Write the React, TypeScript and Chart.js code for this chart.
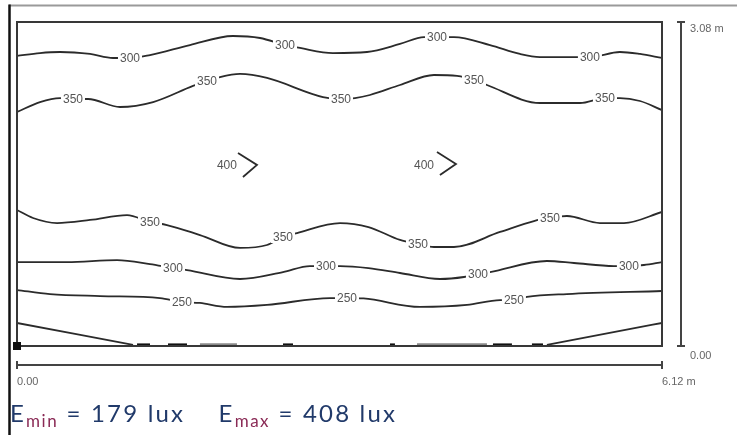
import React, { useEffect, useRef } from "react";
import { Chart, registerables } from "chart.js";

Chart.register(...registerables);

type P = [number, number];

// Room size (m)
const roomWidth = 6.12;
const roomDepth = 3.08;
const xTickLabels = ["0.00", "6.12 m"];
const yTickLabels = ["0.00", "3.08 m"];

// Isolines (x, y in metres)
const iso300Top: P[] = [
  [0, 2.757], [0.218, 2.785], [0.408, 2.795], [0.693, 2.776], [0.911, 2.738], [1.072, 2.738],
  [1.262, 2.766], [1.641, 2.861], [2.049, 2.947], [2.306, 2.928], [2.543, 2.861], [2.685, 2.833],
  [2.998, 2.785], [3.321, 2.795], [3.634, 2.871], [3.862, 2.937], [3.985, 2.937], [4.146, 2.937],
  [4.488, 2.861], [4.772, 2.776], [4.962, 2.747], [5.436, 2.747], [5.721, 2.795], [5.911, 2.776],
  [6.12, 2.738],
];
const iso350Top: P[] = [
  [0, 2.224], [0.218, 2.319], [0.408, 2.357], [0.531, 2.348], [0.674, 2.348], [0.977, 2.272],
  [1.292, 2.319], [1.670, 2.472], [1.803, 2.519], [1.926, 2.557], [2.116, 2.586], [2.372, 2.548],
  [2.903, 2.367], [3.074, 2.348], [3.207, 2.357], [3.349, 2.386], [3.634, 2.481], [3.956, 2.576],
  [4.175, 2.567], [4.336, 2.529], [4.459, 2.481], [4.962, 2.310], [5.342, 2.310], [5.579, 2.357],
  [5.721, 2.357], [5.911, 2.329], [6.12, 2.243],
];
const iso400Left: P[] = [[2.097, 1.835], [2.277, 1.721], [2.144, 1.607]];
const iso400Right: P[] = [[3.985, 1.844], [4.165, 1.730], [4.013, 1.625]];
const iso350Bottom: P[] = [
  [0, 1.293], [0.152, 1.217], [0.380, 1.169], [0.693, 1.198], [1.044, 1.245], [1.262, 1.179],
  [1.423, 1.150], [1.736, 1.055], [2.116, 0.932], [2.372, 0.960], [2.524, 1.036], [2.657, 1.074],
  [3.065, 1.169], [3.335, 1.131], [3.634, 1.008], [3.805, 0.970], [3.956, 0.941], [4.146, 0.941],
  [4.583, 1.084], [4.905, 1.188], [5.057, 1.217], [5.218, 1.236], [5.531, 1.169], [5.759, 1.169],
  [6.12, 1.274],
];
const iso300Bottom: P[] = [
  [0, 0.798], [0.474, 0.798], [0.949, 0.817], [1.262, 0.779], [1.480, 0.741], [1.613, 0.722],
  [2.116, 0.637], [2.524, 0.703], [2.780, 0.760], [2.932, 0.760], [3.065, 0.760], [3.335, 0.741],
  [3.634, 0.694], [4.013, 0.637], [4.241, 0.656], [4.374, 0.684], [4.488, 0.703], [5.028, 0.808],
  [5.285, 0.789], [5.664, 0.760], [5.806, 0.760], [5.949, 0.770], [6.12, 0.798],
];
const iso250: P[] = [
  [0, 0.532], [0.313, 0.494], [0.788, 0.475], [1.357, 0.456], [1.565, 0.418], [1.736, 0.409],
  [1.992, 0.371], [2.372, 0.390], [2.970, 0.456], [3.131, 0.456], [3.288, 0.452], [3.824, 0.371],
  [4.270, 0.390], [4.583, 0.437], [4.715, 0.437], [4.839, 0.466], [5.218, 0.494], [6.12, 0.523],
];
const iso200Left: P[] = [[0, 0.219], [1.101, 0.01]];
const iso200Right: P[] = [[5.028, 0.01], [6.12, 0.219]];
const iso200EdgeDark: P[][] = [
  [[1.139, 0.008], [1.262, 0.008]],
  [[1.433, 0.008], [1.613, 0.008]],
  [[2.524, 0.008], [2.619, 0.008]],
  [[3.539, 0.008], [3.586, 0.008]],
  [[4.516, 0.008], [4.696, 0.008]],
  [[4.886, 0.008], [4.991, 0.008]],
];
const iso200EdgeLight: P[][] = [
  [[1.736, 0.01], [2.087, 0.01]],
  [[3.795, 0.01], [4.459, 0.01]],
];

// Isoline labels (level, position in metres)
const isoLabelText = ["300", "300", "300", "300", "350", "350", "350", "350", "350", "400", "400",
  "350", "350", "350", "350", "300", "300", "300", "300", "250", "250", "250"];
const isoLabelPos: P[] = [
  [1.072, 2.738], [2.543, 2.861], [3.985, 2.937], [5.436, 2.747],
  [0.531, 2.348], [1.803, 2.519], [3.074, 2.348], [4.336, 2.529], [5.579, 2.357],
  [1.992, 1.721], [3.862, 1.721],
  [1.262, 1.179], [2.524, 1.036], [3.805, 0.970], [5.057, 1.217],
  [1.480, 0.741], [2.932, 0.760], [4.374, 0.684], [5.806, 0.760],
  [1.565, 0.418], [3.131, 0.456], [4.715, 0.437],
];

const eMin = 179;
const eMax = 408;

const toPts = (arr: P[]) => arr.map(([x, y]) => ({ x, y }));

const decorPlugin = {
  id: "decor",
  beforeDatasetsDraw(chart: any) {
    const { ctx } = chart;
    ctx.save();
    // page border
    ctx.strokeStyle = "#9a9a9a";
    ctx.lineWidth = 2;
    ctx.beginPath();
    ctx.moveTo(9, 5.5);
    ctx.lineTo(737, 5.5);
    ctx.stroke();
    ctx.strokeStyle = "#111";
    ctx.lineWidth = 2.5;
    ctx.beginPath();
    ctx.moveTo(9.5, 4.5);
    ctx.lineTo(9.5, 435);
    ctx.stroke();
    ctx.restore();
  },
  afterDatasetsDraw(chart: any) {
    const { ctx, scales } = chart;
    const xs = scales.x;
    const ys = scales.y;
    const x0 = xs.getPixelForValue(0);
    const x1 = xs.getPixelForValue(roomWidth);
    const y0 = ys.getPixelForValue(0);
    const y1 = ys.getPixelForValue(roomDepth);
    ctx.save();
    // isoline labels
    ctx.font = "12px 'Liberation Sans', Arial, sans-serif";
    ctx.textAlign = "center";
    ctx.textBaseline = "middle";
    isoLabelPos.forEach(([vx, vy], i) => {
      const px = xs.getPixelForValue(vx);
      const py = ys.getPixelForValue(vy);
      const t = isoLabelText[i];
      const w = ctx.measureText(t).width;
      ctx.fillStyle = "#fff";
      ctx.fillRect(px - w / 2 - 2, py - 6, w + 4, 12);
      ctx.fillStyle = "#555";
      ctx.fillText(t, px, py + 0.5);
    });
    // room frame
    ctx.strokeStyle = "#383838";
    ctx.lineWidth = 2;
    ctx.strokeRect(x0, y1, x1 - x0, y0 - y1);
    ctx.fillStyle = "#111";
    ctx.fillRect(x0 - 4, y0 - 4, 8, 8);
    // right dimension line
    const dx = x1 + 19;
    ctx.strokeStyle = "#444";
    ctx.lineWidth = 2;
    ctx.beginPath();
    ctx.moveTo(dx, y1);
    ctx.lineTo(dx, y0);
    ctx.moveTo(dx - 4, y1);
    ctx.lineTo(dx + 4, y1);
    ctx.moveTo(dx - 4, y0);
    ctx.lineTo(dx + 4, y0);
    // bottom dimension line
    const dy = y0 + 19;
    ctx.moveTo(x0, dy);
    ctx.lineTo(x1, dy);
    ctx.moveTo(x0, dy - 4);
    ctx.lineTo(x0, dy + 4);
    ctx.moveTo(x1, dy - 4);
    ctx.lineTo(x1, dy + 4);
    ctx.stroke();
    ctx.font = "11px 'Liberation Sans', Arial, sans-serif";
    ctx.fillStyle = "#666";
    ctx.textAlign = "left";
    ctx.textBaseline = "middle";
    ctx.fillText(yTickLabels[1], dx + 9, y1 + 7);
    ctx.fillText(yTickLabels[0], dx + 9, y0 + 10);
    ctx.fillText(xTickLabels[0], x0, dy + 17);
    ctx.fillText(xTickLabels[1], x1, dy + 17);
    ctx.restore();
  },
};

export default function App() {
  const ref = useRef<HTMLCanvasElement | null>(null);

  useEffect(() => {
    if (!ref.current) return;
    const line = (data: P[], extra: any = {}) => ({
      data: toPts(data),
      showLine: true,
      pointRadius: 0,
      borderColor: "#2b2b2b",
      borderWidth: 1.8,
      cubicInterpolationMode: "monotone",
      ...extra,
    });
    const datasets: any[] = [
      line(iso300Top),
      line(iso350Top),
      line(iso400Left, { cubicInterpolationMode: "default", tension: 0 }),
      line(iso400Right, { cubicInterpolationMode: "default", tension: 0 }),
      line(iso350Bottom),
      line(iso300Bottom),
      line(iso250),
      line(iso200Left, { tension: 0 }),
      line(iso200Right, { tension: 0 }),
      ...iso200EdgeLight.map((s) => line(s, { borderColor: "#8a8a8a", borderWidth: 3.5, tension: 0 })),
      ...iso200EdgeDark.map((s) => line(s, { borderColor: "#111", borderWidth: 3.5, tension: 0 })),
    ];
    const chart = new Chart(ref.current, {
      type: "scatter",
      data: { datasets },
      options: {
        animation: false,
        responsive: false,
        layout: { padding: { left: 17, top: 22, right: 75, bottom: 89 } },
        plugins: { legend: { display: false }, tooltip: { enabled: false } },
        scales: {
          x: { type: "linear", min: 0, max: roomWidth, display: false },
          y: { type: "linear", min: 0, max: roomDepth, display: false },
        },
      },
      plugins: [decorPlugin],
    });
    return () => chart.destroy();
  }, []);

  const sub: React.CSSProperties = { fontSize: 17, color: "#8a2a55", verticalAlign: "-5px", letterSpacing: "1.5px" };
  return (
    <div style={{ position: "absolute", left: 0, top: 0, width: 737, height: 435, background: "#fff", overflow: "hidden" }}>
      <canvas ref={ref} width={737} height={435} style={{ position: "absolute", left: 0, top: 0 }} />
      <div
        style={{
          position: "absolute",
          left: 10,
          top: 398,
          fontFamily: "Lato, 'Open Sans', sans-serif",
          fontSize: 24,
          color: "#213a6a",
          whiteSpace: "pre",
          lineHeight: "30px",
          letterSpacing: "2.2px",
        }}
      >
        E<span style={sub}>min</span>{` = ${eMin} lux    E`}<span style={sub}>max</span>{` = ${eMax} lux`}
      </div>
    </div>
  );
}
